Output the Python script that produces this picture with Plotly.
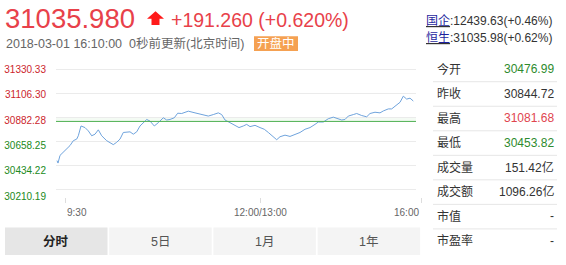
import plotly.graph_objects as go

W, H = 566, 265
FONT = "Liberation Sans, Arial, Noto Sans CJK SC, sans-serif"

# ---------------- data ----------------
minutes = [1, 2, 4, 7.3, 10.7, 14, 17.3, 20.7, 22.3, 25, 29, 32.3, 35.7, 39, 42.3, 45.7,
           50.7, 54, 57.3, 60.7, 64, 67.3, 70.7, 74, 77.3, 80.7, 84, 87.3, 90.7, 94, 98.3,
           102.3, 107.3, 110.7, 114, 118.3, 121.7, 125.7, 132.3, 139, 145.7, 152.3, 157.3,
           162.3, 165.7, 169, 174, 179, 183, 187.3, 190.7, 194, 199, 204, 208.3, 212.3,
           216.3, 220.7, 224, 229, 234, 239, 244, 249, 254, 259, 262.3, 267.3, 272.3, 277.3,
           282.3, 285.7, 289, 292.3, 297.3, 300.7, 305.7, 310.7, 314, 319, 324, 327.3,
           332.3, 335.7, 339, 344, 347.3, 350.7, 354, 357.3]
prices = [30476.99, 30453.82, 30526, 30556, 30587, 30618, 30664, 30679, 30710, 30802,
          30787, 30756, 30710, 30725, 30766, 30710, 30664, 30649, 30627, 30649, 30679,
          30741, 30741, 30747, 30725, 30747, 30802, 30833, 30863, 30848, 30802, 30833,
          30879, 30858, 30863, 30879, 30922, 30919, 30941, 30925, 30909, 30895, 30909,
          30925, 30909, 30858, 30833, 30808, 30787, 30802, 30817, 30796, 30808, 30787,
          30771, 30741, 30710, 30673, 30701, 30716, 30704, 30725, 30741, 30771, 30787,
          30817, 30839, 30839, 30870, 30885, 30870, 30858, 30863, 30895, 30909, 30919,
          30900, 30888, 30919, 30931, 30925, 30943, 30962, 30962, 30987, 31024, 31081.68,
          31054, 31063, 31035.98]
prev_close = 30844.72
y_ticks = [31330.33, 31106.30, 30882.28, 30658.25, 30434.22, 30210.19]
x_tick_pos = [9, 204, 365]
x_tick_labels = ["9:30", "12:00/13:00", "16:00"]

last_price = "31035.980"
change_text = "+191.260 (+0.620%)"
stamp_text = "2018-03-01 16:10:00  0秒前更新(北京时间)"
status_text = "开盘中"
index_names = ["国企", "恒生"]
index_values = [":12439.63(+0.46%)", ":31035.98(+0.62%)"]

stat_labels = ["今开", "昨收", "最高", "最低", "成交量", "成交额", "市值", "市盈率"]
stat_values = ["30476.99", "30844.72", "31081.68", "30453.82", "151.42亿", "1096.26亿", "-", "-"]
stat_colors = ["#2e8b2e", "#333333", "#e0454f", "#2e8b2e", "#333333", "#333333", "#333333", "#333333"]
tabs = ["分时", "5日", "1月", "1年"]

RED = "#e8414a"
UP_RED = "#cc1f2d"
DOWN_GREEN = "#218a21"


def fx(p):
    return p / W


def fy(p):
    return 1 - p / H


fig = go.Figure()
fig.add_trace(go.Scatter(x=minutes, y=prices, mode="lines",
                         line=dict(color="#6fa3dc", width=1),
                         xaxis="x", yaxis="y", hoverinfo="skip"))
fig.add_trace(go.Scatter(x=[None], y=[None], xaxis="x2", yaxis="y2", hoverinfo="skip"))

tick_text = []
for v in y_ticks:
    c = UP_RED if v > prev_close else DOWN_GREEN
    tick_text.append(f"<span style='color:{c}'>{v:.2f}</span>")

# label-axis scale (labels are spaced a bit wider than the grid)
lab_top_px, lab_bot_px = 70.7, 200.0
lab_scale = (lab_bot_px - lab_top_px) / (y_ticks[0] - y_ticks[-1])
y2_range = [y_ticks[-1] - (201 - lab_bot_px) / lab_scale,
            y_ticks[0] + (lab_top_px - 62) / lab_scale]

grid_top_px, grid_bot_px = 71.0, 192.7
g_scale = (grid_bot_px - grid_top_px) / (y_ticks[0] - y_ticks[-1])
y_range = [y_ticks[-1] - (200 - grid_bot_px) / g_scale,
           y_ticks[0] + (grid_top_px - 62) / g_scale]

fig.update_layout(
    width=W, height=H, margin=dict(l=0, r=0, t=0, b=0),
    paper_bgcolor="white", plot_bgcolor="rgba(0,0,0,0)", showlegend=False,
    font=dict(family=FONT, color="#333"),
    xaxis=dict(domain=[fx(56), fx(416)], range=[0, 360], anchor="y",
               showgrid=False, zeroline=False, showticklabels=False, ticks="",
               fixedrange=True),
    yaxis=dict(domain=[fy(200), fy(62)], range=y_range, anchor="x",
               tickvals=y_ticks, showticklabels=False, showgrid=True,
               gridcolor="#ebebeb", gridwidth=1, zeroline=False, ticks="",
               fixedrange=True),
    xaxis2=dict(domain=[fx(56), fx(425)], range=[0, 369], anchor="y2",
                tickvals=x_tick_pos, ticks="outside", ticklen=5, tickwidth=1,
                tickcolor="#dddddd", showticklabels=False, showgrid=False,
                zeroline=False, showline=False, fixedrange=True),
    yaxis2=dict(domain=[fy(201), fy(62)], range=y2_range, anchor="x2",
                tickvals=y_ticks, ticktext=tick_text, showgrid=False,
                zeroline=False, ticks="", ticklabelstandoff=9,
                tickfont=dict(size=10, family=FONT), fixedrange=True),
)

shapes = []
annotations = []

# band and previous-close line
shapes.append(dict(type="rect", xref="x domain", yref="y", x0=0, x1=1,
                   y0=prev_close, y1=y_ticks[2], fillcolor="rgba(120,200,120,0.08)",
                   line=dict(width=0), layer="below"))
shapes.append(dict(type="line", xref="x domain", yref="y", x0=0, x1=1,
                   y0=prev_close, y1=prev_close, line=dict(color="#4caf50", width=1)))

# x tick labels
for pos, lab, anc in zip(x_tick_pos, x_tick_labels, ["left", "center", "right"]):
    annotations.append(dict(xref="x2", yref="paper", x=pos, y=fy(216.5), text=lab,
                            xanchor=anc, yanchor="middle", showarrow=False,
                            font=dict(size=10, color="#666")))

# header
annotations.append(dict(xref="paper", yref="paper", x=fx(3), y=fy(18.5), text=last_price,
                        xanchor="left", yanchor="middle", showarrow=False,
                        font=dict(size=27.5, color=RED)))
shapes.append(dict(type="path", xref="paper", yref="paper",
                   path=(f"M {fx(155.5)} {fy(11.5)} L {fx(164)} {fy(19)} L {fx(159.5)} {fy(19)} "
                         f"L {fx(159.5)} {fy(25.5)} L {fx(151.5)} {fy(25.5)} L {fx(151.5)} {fy(19)} "
                         f"L {fx(147)} {fy(19)} Z"),
                   fillcolor="#ff1a1a", line=dict(width=0)))
annotations.append(dict(xref="paper", yref="paper", x=fx(169), y=fy(20), text=change_text,
                        xanchor="left", yanchor="middle", showarrow=False,
                        font=dict(size=19.5, color=RED)))
annotations.append(dict(xref="paper", yref="paper", x=fx(4), y=fy(44.5), text=stamp_text,
                        xanchor="left", yanchor="middle", showarrow=False,
                        font=dict(size=12.5, color="#666")))
shapes.append(dict(type="rect", xref="paper", yref="paper", x0=fx(254), x1=fx(298),
                   y0=fy(52), y1=fy(37), fillcolor="#f5a152", line=dict(width=0)))
annotations.append(dict(xref="paper", yref="paper", x=fx(276), y=fy(44.5), text=status_text,
                        xanchor="center", yanchor="middle", showarrow=False,
                        font=dict(size=12.5, color="white")))
for i, (n, v) in enumerate(zip(index_names, index_values)):
    annotations.append(dict(xref="paper", yref="paper", x=fx(424), y=fy(21 + 18 * i),
                            text=f"<u><span style='color:#1f1f9e'>{n}</span></u>{v}",
                            xanchor="left", yanchor="middle", showarrow=False,
                            font=dict(size=12, color="#333")))

# stats table
for i, (lab, val, col) in enumerate(zip(stat_labels, stat_values, stat_colors)):
    yc = 70.5 + 25 * i
    annotations.append(dict(xref="paper", yref="paper", x=fx(435), y=fy(yc), text=lab,
                            xanchor="left", yanchor="middle", showarrow=False,
                            font=dict(size=12, color="#333")))
    annotations.append(dict(xref="paper", yref="paper", x=fx(556), y=fy(yc), text=val,
                            xanchor="right", yanchor="middle", showarrow=False,
                            font=dict(size=12, color=col)))
    if i < len(stat_labels) - 1:
        shapes.append(dict(type="line", xref="paper", yref="paper", x0=fx(433), x1=fx(557),
                           y0=fy(yc + 12.8), y1=fy(yc + 12.8),
                           line=dict(color="#e6e6e6", width=1)))

# tabs
for i, t in enumerate(tabs):
    x0 = 5 + i * 104.2
    x1 = x0 + 102.5
    shapes.append(dict(type="rect", xref="paper", yref="paper", x0=fx(x0), x1=fx(x1),
                       y0=fy(260), y1=fy(232),
                       fillcolor="#e6e6e6" if i == 0 else "#f4f4f4", line=dict(width=0)))
    annotations.append(dict(xref="paper", yref="paper", x=fx((x0 + x1) / 2), y=fy(246.5),
                            text=f"<b>{t}</b>" if i == 0 else t,
                            xanchor="center", yanchor="middle", showarrow=False,
                            font=dict(size=12.5, color="#222" if i == 0 else "#555")))

fig.update_layout(shapes=shapes, annotations=annotations)
fig.write_html("out.html")
